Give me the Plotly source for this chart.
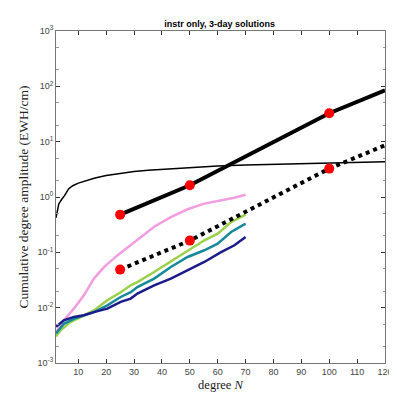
import plotly.graph_objects as go

# ---- data ----
deg_ref = [2, 2.5, 3, 4, 5, 6.5, 8, 10, 13, 16, 20, 25, 30, 35, 40, 50, 60, 70, 80, 90, 100, 110, 120]
amp_ref = [0.42, 0.62, 0.75, 0.9, 1.05, 1.4, 1.6, 1.78, 2.0, 2.2, 2.45, 2.7, 2.9, 3.05, 3.18, 3.45, 3.65, 3.8, 3.9, 4.0, 4.1, 4.22, 4.35]

deg_model = [25, 50, 100, 120]
amp_model = [0.48, 1.63, 32.6, 84.8]
amp_model_tenth = [0.0487, 0.163, 3.26, 8.6]
deg_dots = [25, 50, 100]
amp_dots = [0.48, 1.63, 32.6]
amp_dots_tenth = [0.0487, 0.163, 3.26]

deg_pink = [2, 4.8, 8.4, 12, 15.6, 19.2, 24, 28.8, 32, 37.2, 43.2, 49.2, 55.2, 61.2, 66, 70]
amp_pink = [0.0036, 0.0059, 0.0096, 0.0167, 0.0335, 0.054, 0.088, 0.134, 0.18, 0.29, 0.434, 0.6, 0.76, 0.87, 0.97, 1.1]

deg_green = [2, 3.6, 7.2, 12, 15.6, 20.4, 25.2, 28.8, 31.2, 37.2, 43.2, 49.2, 55.2, 60, 64.8, 70]
amp_green = [0.0030, 0.0039, 0.0055, 0.0073, 0.0089, 0.0136, 0.019, 0.0254, 0.029, 0.044, 0.0687, 0.109, 0.165, 0.218, 0.353, 0.48]

deg_teal = [2, 4.8, 8.4, 12, 15.6, 20.4, 25.2, 28.8, 31.2, 37.2, 43.2, 49.2, 55.2, 60, 64.8, 70]
amp_teal = [0.0034, 0.0051, 0.0063, 0.0073, 0.0083, 0.011, 0.0156, 0.019, 0.0236, 0.0335, 0.0543, 0.0824, 0.109, 0.1435, 0.233, 0.33]

deg_navy = [2, 4.8, 8.4, 12, 15.6, 20.4, 25.2, 28.8, 31.2, 37.2, 43.2, 49.2, 55.2, 61.2, 66, 70]
amp_navy = [0.0045, 0.0059, 0.0068, 0.0073, 0.0083, 0.0096, 0.0127, 0.0146, 0.018, 0.0254, 0.0335, 0.047, 0.0669, 0.101, 0.134, 0.189]

x_ticks = [10, 20, 30, 40, 50, 60, 70, 80, 90, 100, 110, 120]
y_ticks = [1e-3, 1e-2, 1e-1, 1e0, 1e1, 1e2, 1e3]
y_ticktext = ["10<sup>-3</sup>", "10<sup>-2</sup>", "10<sup>-1</sup>", "10<sup>0</sup>",
              "10<sup>1</sup>", "10<sup>2</sup>", "10<sup>3</sup>"]

title_text = "instr only, 3-day solutions"
x_title = "degree <i>N</i>"
y_title = "Cumulative degree amplitude (EWH/cm)"

fig = go.Figure()

for xs, ys, col in [(deg_pink, amp_pink, "#f29ddf"),
                    (deg_green, amp_green, "#9bd04b"),
                    (deg_teal, amp_teal, "#16899b"),
                    (deg_navy, amp_navy, "#1b1b8c")]:
    fig.add_trace(go.Scatter(x=xs, y=ys, mode="lines", line=dict(color=col, width=2.5)))

fig.add_trace(go.Scatter(x=deg_ref, y=amp_ref, mode="lines", line=dict(color="black", width=1.5)))
fig.add_trace(go.Scatter(x=deg_model, y=amp_model, mode="lines", line=dict(color="black", width=4)))
fig.add_trace(go.Scatter(x=deg_model, y=amp_model_tenth, mode="lines", line=dict(color="black", width=4, dash="dot")))
fig.add_trace(go.Scatter(x=deg_dots, y=amp_dots, mode="markers", marker=dict(color="#ff0000", size=10)))
fig.add_trace(go.Scatter(x=deg_dots, y=amp_dots_tenth, mode="markers", marker=dict(color="#ff0000", size=10)))

axis_col = "#777777"
# page has an 8px body margin; margins below compensate for it
fig.update_layout(
    width=397, height=408,
    margin=dict(l=47.5, r=20, t=22.7, b=53.3),
    paper_bgcolor="white", plot_bgcolor="white",
    showlegend=False,
    title=dict(text="<b>" + title_text + "</b>", x=0.533, xanchor="center", xref="container",
               y=0.961, yanchor="middle", yref="container",
               font=dict(family="Liberation Sans, Arial", size=9, color="black")),
    font=dict(family="Liberation Sans, Arial", size=9, color="#444444"),
)
fig.update_xaxes(
    range=[2, 120], tickvals=x_ticks, ticks="inside", ticklen=4, tickcolor="#333333",
    showline=True, linecolor=axis_col, linewidth=1, mirror="ticks", showgrid=False, zeroline=False,
    automargin=False,
    tickfont=dict(size=9, color="#444444"),
    title=dict(text=x_title, standoff=4, font=dict(family="Liberation Serif, DejaVu Serif", size=12.5, color="#222222")),
)
fig.update_yaxes(
    type="log", range=[-3, 3], tickvals=y_ticks, ticktext=y_ticktext, ticks="inside", ticklen=4,
    tickcolor="#333333", showline=True, linecolor=axis_col, linewidth=1, mirror="ticks",
    showgrid=False, zeroline=False, automargin=False,
    minor=dict(ticks="inside", ticklen=2.5, tickcolor="#999999", showgrid=False),
    tickfont=dict(size=9, color="#444444"),
    title=dict(text=y_title, standoff=5, font=dict(family="Liberation Serif, DejaVu Serif", size=13.5, color="#222222")),
)

fig.write_html("out.html")
